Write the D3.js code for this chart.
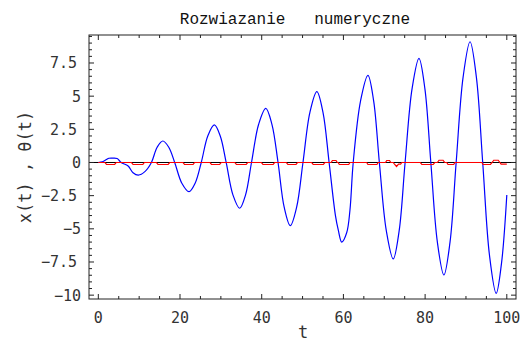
<!DOCTYPE html>
<html><head><meta charset="utf-8">
<script src="https://cdn.jsdelivr.net/npm/d3@7"></script>
<style>body{margin:0;background:#fff}svg{display:block}</style>
</head><body><svg id="c" width="521" height="343"></svg>
<script>
// ---- data ----
const titleText = "Rozwiazanie   numeryczne";
const xLabelText = "t";
const yLabelText = "x(t) , \u03B8(t)";
const xTicksMajor = [0, 20, 40, 60, 80, 100];
const yTicksMajor = [-10, -7.5, -5, -2.5, 0, 2.5, 5, 7.5];
const yTickLabels = ["\u221210", "\u22127.5", "\u22125", "\u22122.5", "0", "2.5", "5", "7.5"];
// x(t) (blue)
const xSeriesT = [0,1,2,2.6,3.6,4.6,5.6,7.3,8.5,9.8,11.4,13.0,
  14.4,15.8,17.25,18.7, 20.45,22.2,23.7,25.2, 26.8,28.4,29.85,31.3,
  32.95,34.6,36.05,37.5, 39.25,41.0,42.5,44.0, 45.5,47.0,48.55,50.1,
  51.8,53.5,55.0,56.5, 58.05,58.75,59.6,60.8,61.6,62.4, 64.2,66.0,67.4,68.8,
  70.5,72.2,73.65,75.1, 76.8,78.5,79.95,81.4, 83.0,84.6,86.1,87.6,
  89.3,91.0,92.55,94.1, 95.75,97.4,98.7,100];
const xSeriesV = [0,0.05,0.22,0.32,0.33,0.3,0,-0.27,-0.77,-0.95,-0.69,0,
  1.15,1.62,1.15,0, -1.56,-2.2,-1.56,0, 2.0,2.83,2.0,0,
  -2.44,-3.45,-2.44,0, 2.88,4.08,2.88,0, -3.37,-4.76,-3.37,0,
  3.78,5.34,3.78,0, -4.0,-5.1,-6.0,-5.3,-3.6,0, 4.65,6.57,4.65,0,
  -5.14,-7.27,-5.14,0, 5.55,7.85,5.55,0, -6.0,-8.48,-6.0,0,
  6.43,9.1,6.43,0, -6.97,-9.86,-7.6,-2.45];
// theta(t) (red)
const thSeriesT = [0,1.6,2.0,4.0,4.4, 8.1,8.5,10.9,11.3, 14.2,14.6,17.1,17.5,
  20.7,21.1,23.2,23.6, 27.3,27.7,29.7,30.1, 33.4,33.8,36.2,36.6,
  39.9,40.3,42.8,43.2, 46.0,46.4,48.4,48.8, 52.2,52.6,55.1,55.5,
  57.0,57.3,58.2,58.5,58.7,59.0,61.3,61.6, 65.7,66.0,68.2,68.5,
  70.3,70.6,71.3,71.6,72.2,72.5,73.0,73.5,74.0,74.3,
  78.8,79.2,82.0,82.4, 83.0,83.4,84.4,84.8,85.3,85.6,87.0,87.3,
  93.9,94.2,96.0,96.4,96.8,97.9,98.3,98.6,100];
const thSeriesV = [0,0,-0.15,-0.15,0, 0,-0.15,-0.15,0, 0,-0.15,-0.15,0,
  0,-0.15,-0.15,0, 0,-0.15,-0.15,0, 0,-0.15,-0.15,0,
  0,-0.15,-0.15,0, 0,-0.15,-0.15,0, 0,-0.15,-0.15,0,
  0,0.15,0.15,0,0,-0.15,-0.15,0, 0,-0.15,-0.15,0,
  0,0.15,0.15,0,0,-0.12,-0.3,-0.12,-0.12,0,
  0,-0.15,-0.15,0, 0,0.17,0.17,0,0,-0.15,-0.15,0,
  0,-0.15,-0.15,0,0.17,0.17,0,-0.12,-0.12];

// ---- layout ----
const L = 89, R = 516, T = 35, B = 299;
const svg = d3.select("#c");
const x = d3.scaleLinear().domain([-2.28, 102.25]).range([L, R]);
const y = d3.scaleLinear().domain([-10.29, 9.61]).range([B, T]);

svg.append("defs").append("clipPath").attr("id","clip")
  .append("rect").attr("x",L).attr("y",T).attr("width",R-L).attr("height",B-T);

// zero axis line
svg.append("line").attr("x1",L).attr("x2",R).attr("y1",y(0)).attr("y2",y(0))
  .attr("stroke","#000").attr("stroke-width",1);

const blue = xSeriesT.map((t,i)=>[t,xSeriesV[i]]);
const red = thSeriesT.map((t,i)=>[t,thSeriesV[i]]);
const g = svg.append("g").attr("clip-path","url(#clip)");
g.append("path").datum(blue)
  .attr("d", d3.line().x(d=>x(d[0])).y(d=>y(d[1])).curve(d3.curveCatmullRom.alpha(0.5)))
  .attr("fill","none").attr("stroke","#0000ff").attr("stroke-width",1.2);
g.append("path").datum(red)
  .attr("d", d3.line().x(d=>x(d[0])).y(d=>y(d[1])))
  .attr("fill","none").attr("stroke","#ff0000").attr("stroke-width",1.2);

// frame
svg.append("rect").attr("x",L).attr("y",T).attr("width",R-L).attr("height",B-T)
  .attr("fill","none").attr("stroke","#222").attr("stroke-width",1);

// ticks
const tk = svg.append("g").attr("stroke","#222").attr("stroke-width",1);
const xMinor = d3.range(0, 101, 5).filter(v=>!xTicksMajor.includes(v));
const yMinor = d3.range(-10, 9.6, 0.5).filter(v=>!yTicksMajor.includes(v));
const MJ = 5, MN = 3;
xTicksMajor.forEach(v=>{const px=x(v);
  tk.append("line").attr("x1",px).attr("x2",px).attr("y1",B).attr("y2",B-MJ);
  tk.append("line").attr("x1",px).attr("x2",px).attr("y1",T).attr("y2",T+MJ);});
xMinor.forEach(v=>{const px=x(v);
  tk.append("line").attr("x1",px).attr("x2",px).attr("y1",B).attr("y2",B-MN);
  tk.append("line").attr("x1",px).attr("x2",px).attr("y1",T).attr("y2",T+MN);});
yTicksMajor.forEach(v=>{const py=y(v);
  tk.append("line").attr("x1",L).attr("x2",L+MJ).attr("y1",py).attr("y2",py);
  tk.append("line").attr("x1",R).attr("x2",R-MJ).attr("y1",py).attr("y2",py);});
yMinor.forEach(v=>{const py=y(v);
  tk.append("line").attr("x1",L).attr("x2",L+MN).attr("y1",py).attr("y2",py);
  tk.append("line").attr("x1",R).attr("x2",R-MN).attr("y1",py).attr("y2",py);});

// tick labels
const lblFont = "'DejaVu Sans Mono', monospace";
svg.append("g").selectAll("text").data(xTicksMajor).join("text")
  .attr("x",d=>x(d)).attr("y",323).attr("text-anchor","middle")
  .attr("font-family",lblFont).attr("font-size",15).attr("fill","#333").text(d=>String(d));
svg.append("g").selectAll("text").data(yTicksMajor).join("text")
  .attr("x",(d,i)=>yTickLabels[i].includes(".")?77:81).attr("y",d=>y(d)+5.5)
  .attr("text-anchor","end")
  .attr("font-family",lblFont).attr("font-size",15).attr("fill","#333").text((d,i)=>yTickLabels[i]);

// title & axis labels
svg.append("text").attr("x",295).attr("y",24).attr("text-anchor","middle")
  .attr("font-family","'Liberation Mono', monospace").attr("font-size",16)
  .attr("fill","#111").style("white-space","pre").text(titleText);
svg.append("text").attr("x",303).attr("y",338).attr("text-anchor","middle")
  .attr("font-family",lblFont).attr("font-size",17).attr("fill","#333").text(xLabelText);
svg.append("text").attr("transform","translate(31,167) rotate(-90)").attr("text-anchor","middle")
  .attr("font-family",lblFont).attr("font-size",17).attr("fill","#333")
  .style("white-space","pre").text(yLabelText);
</script></body></html>
